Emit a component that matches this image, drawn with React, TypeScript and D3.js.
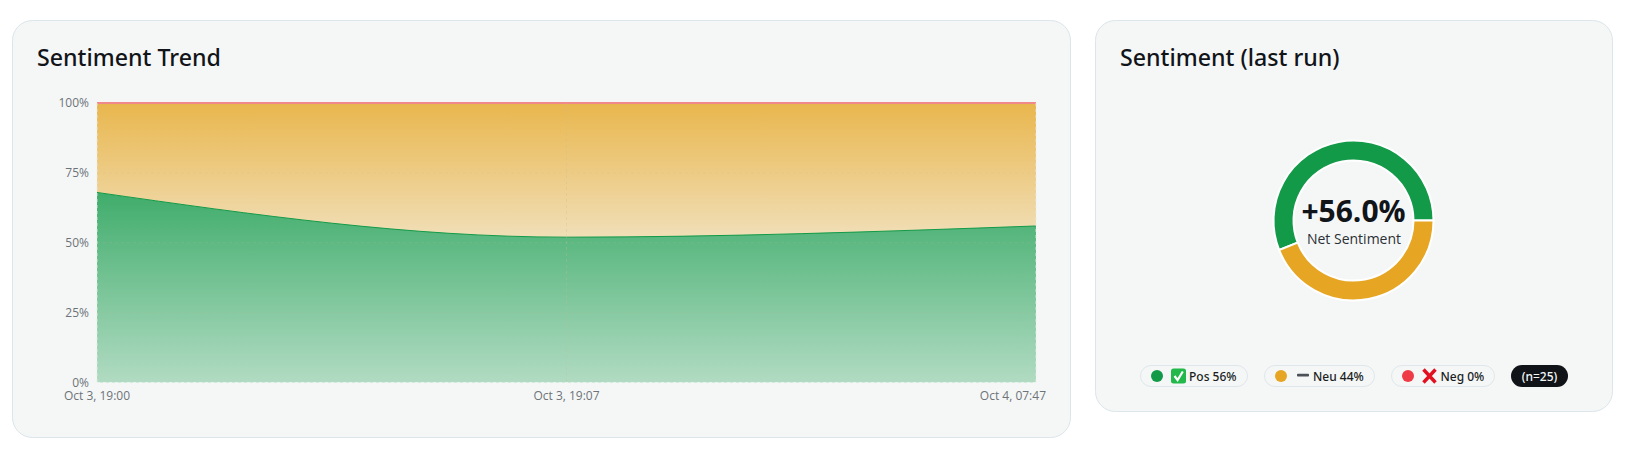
import React from "react";
import * as d3 from "d3";

const categories = ["Oct 3, 19:00", "Oct 3, 19:07", "Oct 4, 07:47"];
const positive = [68, 52, 56];
const neutral = [32, 48, 44];
const negative = [0, 0, 0];
const yTicks = [0, 25, 50, 75, 100];

const donutLabels = ["Pos", "Neu", "Neg"];
const donutValues = [56, 44, 0];
const donutColors = ["#129a48", "#e6a623", "#ef3b46"];
const netLabel = "+56.0%";
const countLabel = "(n=25)";

const FONT = "'Open Sans', 'Noto Sans', sans-serif";
const HEAD = "'Noto Sans', 'Open Sans', sans-serif";

const x = d3.scalePoint<string>().domain(categories).range([97, 1036]);
const y = d3.scaleLinear().domain([0, 100]).range([382.5, 103]);

type Row = { c: string; pos: number; neu: number; neg: number };
const rows: Row[] = categories.map((c, i) => ({ c, pos: positive[i], neu: neutral[i], neg: negative[i] }));
const stack = d3.stack<Row>().keys(["pos", "neu", "neg"])(rows);
const area = d3
  .area<any>()
  .x((d) => x(d.data.c) as number)
  .y0((d) => y(d[0]))
  .y1((d) => y(d[1]))
  .curve(d3.curveMonotoneX);
const topLine = d3
  .line<any>()
  .x((d) => x(d.data.c) as number)
  .y((d) => y(d[1]))
  .curve(d3.curveMonotoneX);

const cx = 1353.5;
const cy = 220.5;
const pie = d3
  .pie<number>()
  .sort(null)
  .startAngle(Math.PI / 2)
  .endAngle(Math.PI / 2 - 2 * Math.PI);
const arc = d3.arc<d3.PieArcDatum<number>>().innerRadius(60).outerRadius(80);

const pills = [
  { x0: 1140.5, x1: 1247.5, dot: 1157, tx: 1189 },
  { x0: 1264.5, x1: 1374.5, dot: 1281, tx: 1313 },
  { x0: 1391.5, x1: 1494.5, dot: 1408, tx: 1440.5 },
];

function Icon({ i }: { i: number }) {
  if (i === 0)
    return (
      <g>
        <rect x={1171} y={368.5} width={15} height={15} rx={2.5} fill="#22b84a" />
        <path d="M1174.5 376 L1177.6 380 L1182.8 371.5" fill="none" stroke="#fff" strokeWidth={2.2} />
      </g>
    );
  if (i === 1) return <rect x={1297} y={373.7} width={12} height={2.8} rx={0.8} fill="#4b5157" />;
  return <path d="M1423.5 369.5 L1435.5 382.5 M1435.5 369.5 L1423.5 382.5" stroke="#e3101f" strokeWidth={3.4} fill="none" />;
}

export default function App() {
  const tickFill = "#6d7378";
  const last = categories.length - 1;
  return (
    <svg width={1632} height={455} style={{ position: "absolute", left: 0, top: 0, display: "block", fontFamily: FONT }}>
      <defs>
        <linearGradient id="gPos" x1="0" y1="0" x2="0" y2="1">
          <stop offset="0" stopColor="#129a48" stopOpacity={0.8} />
          <stop offset="1" stopColor="#129a48" stopOpacity={0.3} />
        </linearGradient>
        <linearGradient id="gNeu" x1="0" y1="0" x2="0" y2="1">
          <stop offset="0" stopColor="#e6a623" stopOpacity={0.8} />
          <stop offset="1" stopColor="#e6a623" stopOpacity={0.3} />
        </linearGradient>
      </defs>
      <rect x={12.5} y={20.5} width={1058} height={417} rx={20} fill="#f5f7f7" stroke="#dbe5ea" />
      <rect x={1095.5} y={20.5} width={517} height={391} rx={20} fill="#f5f7f7" stroke="#dbe5ea" />

      <text x={37} y={66} fontFamily={HEAD} fontSize={23.2} fontWeight={500} fill="#111418">Sentiment Trend</text>
      <text x={1120} y={66} fontFamily={HEAD} fontSize={23.2} fontWeight={500} fill="#111418">Sentiment (last run)</text>

      {yTicks.map((t) => (
        <text key={t} x={89} y={y(t) + 4} textAnchor="end" fontSize={12} fill={tickFill}>{t}%</text>
      ))}
      {categories.map((c, i) => (
        <text key={c} x={i === last ? 1046 : x(c)} y={400} textAnchor={i === last ? "end" : "middle"} fontSize={12} fill={tickFill}>{c}</text>
      ))}

      <path d={area(stack[0]) as string} fill="url(#gPos)" />
      <path d={area(stack[1]) as string} fill="url(#gNeu)" />
      <path d={topLine(stack[0]) as string} fill="none" stroke="#129a48" strokeWidth={1} />
      <path d={topLine(stack[1]) as string} fill="none" stroke="#f08a8a" strokeWidth={2} />

      <g strokeDasharray="3 3" fill="none">
        {yTicks.slice(0, 4).map((t) => (
          <line key={t} x1={97} x2={1036} y1={y(t)} y2={y(t)} stroke={t === 0 ? "#ffffff" : "#c8bd90"} strokeOpacity={t === 0 ? 0.5 : 0.18} />
        ))}
        {categories.map((c) => (
          <line key={c} x1={x(c)} x2={x(c)} y1={103} y2={382.5} stroke={c === categories[1] ? "#c8bd90" : "#e8ecea"} strokeOpacity={c === categories[1] ? 0.3 : 0.8} />
        ))}
      </g>

      <g transform={`translate(${cx},${cy})`}>
        {pie(donutValues).map((d, i) =>
          d.value > 0 ? <path key={i} d={arc(d) as string} fill={donutColors[i]} stroke="#ffffff" strokeWidth={2} /> : null
        )}
      </g>
      <text x={cx} y={221.5} textAnchor="middle" fontSize={30} fontWeight={700} fill="#111418">{netLabel}</text>
      <text x={cx + 0.5} y={244} textAnchor="middle" fontSize={14} fill="#2b3035">Net Sentiment</text>

      {pills.map((p, i) => (
        <g key={i}>
          <rect x={p.x0} y={365.5} width={p.x1 - p.x0} height={21} rx={10.5} fill="none" stroke="#dfe7ec" />
          <circle cx={p.dot} cy={376} r={6} fill={donutColors[i]} />
          <Icon i={i} />
          <text x={p.tx} y={380.5} fontFamily={HEAD} fontSize={12} fontWeight={500} fill="#1a1e22">{`${donutLabels[i]} ${donutValues[i]}%`}</text>
        </g>
      ))}
      <rect x={1511} y={365} width={57} height={22} rx={11} fill="#101317" />
      <text x={1539.5} y={380.5} textAnchor="middle" fontFamily={HEAD} fontSize={12} fontWeight={500} fill="#f5f7f7">{countLabel}</text>
    </svg>
  );
}
